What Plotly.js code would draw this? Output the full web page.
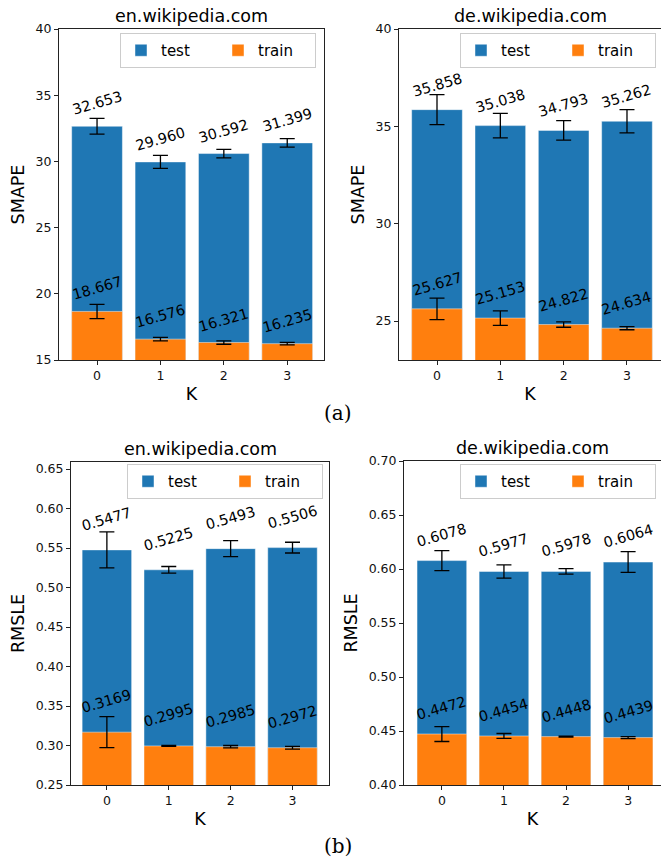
<!DOCTYPE html>
<html>
<head>
<meta charset="utf-8">
<script src="https://cdn.plot.ly/plotly-3.0.1.min.js"></script>
<style>html,body{margin:0;padding:0;background:#fff;}</style>
</head>
<body>
<div id="chart" style="width:661px;height:859px;"></div>
<script>
// ---- data ----
const K = [0, 1, 2, 3];
const kLabels = ['0', '1', '2', '3'];
const seriesNames = ['test', 'train'];
const panelTitles = ['en.wikipedia.com', 'de.wikipedia.com', 'en.wikipedia.com', 'de.wikipedia.com'];
const metricNames = ['SMAPE', 'SMAPE', 'RMSLE', 'RMSLE'];

const smapeEnTest = [32.653, 29.960, 30.592, 31.399];
const smapeEnTestErr = [0.59, 0.49, 0.32, 0.32];
const smapeEnTrain = [18.667, 16.576, 16.321, 16.235];
const smapeEnTrainErr = [0.54, 0.13, 0.13, 0.10];

const smapeDeTest = [35.858, 35.038, 34.793, 35.262];
const smapeDeTestErr = [0.77, 0.63, 0.50, 0.60];
const smapeDeTrain = [25.627, 25.153, 24.822, 24.634];
const smapeDeTrainErr = [0.55, 0.37, 0.14, 0.08];

const rmsleEnTest = [0.5477, 0.5225, 0.5493, 0.5506];
const rmsleEnTestErr = [0.0228, 0.0042, 0.0101, 0.0068];
const rmsleEnTrain = [0.3169, 0.2995, 0.2985, 0.2972];
const rmsleEnTrainErr = [0.0196, 0.0006, 0.0015, 0.0017];

const rmsleDeTest = [0.6078, 0.5977, 0.5978, 0.6064];
const rmsleDeTestErr = [0.0093, 0.0062, 0.0026, 0.0096];
const rmsleDeTrain = [0.4472, 0.4454, 0.4448, 0.4439];
const rmsleDeTrainErr = [0.0069, 0.0023, 0.0005, 0.0009];

const yTicks1 = [15, 20, 25, 30, 35, 40];
const yTicks2 = [25, 30, 35, 40];
const yTicks3 = [0.25, 0.30, 0.35, 0.40, 0.45, 0.50, 0.55, 0.60, 0.65];
const yTicks4 = [0.40, 0.45, 0.50, 0.55, 0.60, 0.65, 0.70];

// ---- styling ----
const FONT = 'DejaVu Sans, sans-serif';
const BLUE = '#1f77b4';
const ORANGE = '#ff7f0e';

const panels = [
  {test: smapeEnTest, testErr: smapeEnTestErr, train: smapeEnTrain, trainErr: smapeEnTrainErr, digits: 3, shift: 23},
  {test: smapeDeTest, testErr: smapeDeTestErr, train: smapeDeTrain, trainErr: smapeDeTrainErr, digits: 3, shift: 25},
  {test: rmsleEnTest, testErr: rmsleEnTestErr, train: rmsleEnTrain, trainErr: rmsleEnTrainErr, digits: 4, shift: 31},
  {test: rmsleDeTest, testErr: rmsleDeTestErr, train: rmsleDeTrain, trainErr: rmsleDeTrainErr, digits: 4, shift: 26}
];

const traces = [];
const annotations = [];
panels.forEach((p, i) => {
  const n = i === 0 ? '' : String(i + 1);
  const xa = 'x' + n, ya = 'y' + n;
  const leg = 'legend' + n;
  const errStyle = {type: 'data', visible: true, color: '#000', thickness: 1.3, width: 7.5};
  traces.push({
    type: 'bar', x: K, y: p.test, name: seriesNames[0], xaxis: xa, yaxis: ya, legend: leg,
    width: 0.8, marker: {color: BLUE, line: {color: 'rgba(255,255,255,0.45)', width: 1}},
    error_y: Object.assign({array: p.testErr}, errStyle), hoverinfo: 'y'
  });
  traces.push({
    type: 'bar', x: K, y: p.train, name: seriesNames[1], xaxis: xa, yaxis: ya, legend: leg,
    width: 0.8, marker: {color: ORANGE, line: {color: 'rgba(255,255,255,0.45)', width: 1}},
    error_y: Object.assign({array: p.trainErr}, errStyle), hoverinfo: 'y'
  });
  [p.test, p.train].forEach(arr => {
    arr.forEach((v, j) => {
      annotations.push({
        xref: xa, yref: ya, x: K[j], y: v, text: v.toFixed(p.digits),
        showarrow: false, textangle: -16, xanchor: 'center', yanchor: 'middle',
        yshift: p.shift, font: {family: FONT, size: 14.5, color: '#000'}
      });
    });
  });
  annotations.push({
    xref: xa + ' domain', yref: ya + ' domain', x: 0.5, y: 1, yshift: 13,
    xanchor: 'center', yanchor: 'middle', showarrow: false, text: panelTitles[i],
    font: {family: FONT, size: 17.5, color: '#000'}
  });
});

annotations.push({xref: 'paper', yref: 'paper', x: 338 / 661, y: 1 - 413 / 859, xanchor: 'center', yanchor: 'middle',
  showarrow: false, text: '(a)', font: {family: 'DejaVu Serif, serif', size: 20, color: '#000'}});
annotations.push({xref: 'paper', yref: 'paper', x: 338 / 661, y: 1 - 846 / 859, xanchor: 'center', yanchor: 'middle',
  showarrow: false, text: '(b)', font: {family: 'DejaVu Serif, serif', size: 20, color: '#000'}});

function xAxis(domain, range, anchor) {
  return {
    domain: domain, range: range, anchor: anchor, tickvals: K, ticktext: kLabels,
    ticks: 'outside', ticklen: 4, tickwidth: 1, tickcolor: '#222',
    showline: true, mirror: true, linecolor: '#222', linewidth: 1,
    showgrid: false, zeroline: false, fixedrange: true,
    tickfont: {family: FONT, size: 12.5, color: '#111'},
    title: {text: 'K', font: {family: FONT, size: 17.5, color: '#000'}, standoff: 5}
  };
}
function yAxis(domain, range, anchor, ticks, fmt, title) {
  return {
    domain: domain, range: range, anchor: anchor, tickvals: ticks, tickformat: fmt,
    ticks: 'outside', ticklen: 4, tickwidth: 1, tickcolor: '#222',
    showline: true, mirror: true, linecolor: '#222', linewidth: 1,
    showgrid: false, zeroline: false, fixedrange: true,
    tickfont: {family: FONT, size: 12.5, color: '#111'},
    title: {text: title, font: {family: FONT, size: 17.5, color: '#000'}, standoff: 6}
  };
}
function legendAt(rightPx, midPx) {
  return {
    orientation: 'h', x: rightPx / 661, xanchor: 'right', y: 1 - midPx / 859, yanchor: 'middle',
    bgcolor: 'rgba(255,255,255,0.85)', bordercolor: '#cccccc', borderwidth: 1,
    font: {family: FONT, size: 15, color: '#000'}, entrywidth: 52, traceorder: 'normal'
  };
}

const layout = {
  width: 661, height: 859,
  margin: {l: 0, r: 0, t: 0, b: 0},
  paper_bgcolor: '#fff', plot_bgcolor: '#fff',
  barmode: 'overlay',
  showlegend: true,
  font: {family: FONT, color: '#000'},
  xaxis: xAxis([59 / 661, 324 / 661], [-0.6, 3.58], 'y'),
  yaxis: yAxis([1 - 360 / 859, 1 - 29 / 859], [15, 40], 'x', yTicks1, '', metricNames[0]),
  xaxis2: xAxis([399 / 661, 1], [-0.6, 3.537], 'y2'),
  yaxis2: yAxis([1 - 360 / 859, 1 - 29 / 859], [23, 40], 'x2', yTicks2, '', metricNames[1]),
  xaxis3: xAxis([71 / 661, 329 / 661], [-0.58, 3.59], 'y3'),
  yaxis3: yAxis([1 - 785 / 859, 1 - 462 / 859], [0.25, 0.659], 'x3', yTicks3, '.2f', metricNames[2]),
  xaxis4: xAxis([404 / 661, 1], [-0.61, 3.53], 'y4'),
  yaxis4: yAxis([1 - 785 / 859, 1 - 461 / 859], [0.40, 0.70], 'x4', yTicks4, '.2f', metricNames[3]),
  legend: legendAt(316, 50.5),
  legend2: legendAt(656, 50.5),
  legend3: legendAt(323, 481.5),
  legend4: legendAt(656, 481.5),
  annotations: annotations
};

Plotly.newPlot('chart', traces, layout, {displayModeBar: false, staticPlot: true});
</script>
</body>
</html>
